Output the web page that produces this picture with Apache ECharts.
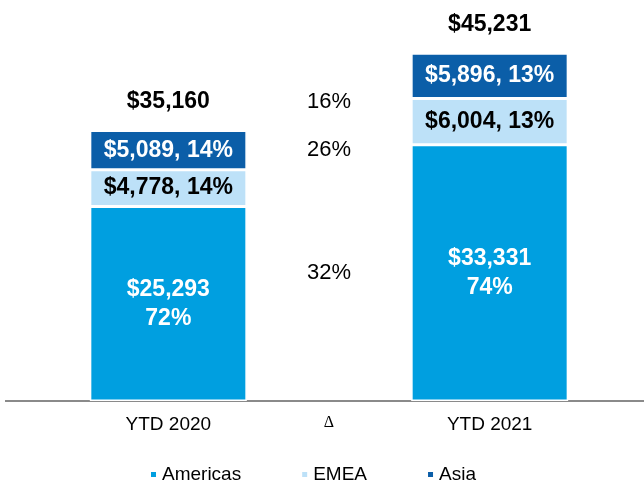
<!DOCTYPE html>
<html>
<head>
<meta charset="utf-8">
<script src="https://cdn.jsdelivr.net/npm/echarts@6/dist/echarts.min.js"></script>
<style>
  html, body { margin: 0; padding: 0; background: #fff; }
  #echart { width: 644px; height: 482px; }
</style>
</head>
<body>
<div id="echart"></div>
<script>
var categories = ['YTD 2020', 'Δ', 'YTD 2021'];
var americas = [25293, '-', 33331];
var emea = [4778, '-', 6004];
var asia = [5089, '-', 5896];
var totals = [35160, '-', 45231];
var americasPct = ['72%', '', '74%'];
var emeaPct = ['14%', '', '13%'];
var asiaPct = ['14%', '', '13%'];
var deltaPct = { americas: '32%', emea: '26%', asia: '16%' };

function money(v) {
    return '$' + Number(v).toLocaleString('en-US');
}

var chartDom = document.getElementById('echart');
var myChart = echarts.init(chartDom);

var font = 'Liberation Sans, Arial, sans-serif';

// delta labels sit in the middle column, placed relative to the stacks
var deltaData = [
    { value: [1, americas[2] / 2], label: { formatter: deltaPct.americas } },
    { value: [1, totals[0] - asia[0] / 2], label: { formatter: deltaPct.emea } },
    { value: [1, americas[2] + emea[2]], label: { formatter: deltaPct.asia, offset: [0, 3] } }
];

var option = {
    animation: false,
    textStyle: { fontFamily: font },
    grid: { left: 88, right: 74, top: 16.5, bottom: 81 },
    legend: {
        top: 460,
        left: 144,
        itemWidth: 7,
        itemHeight: 7,
        itemGap: 59,
        icon: 'rect',
        data: ['Americas', 'EMEA', 'Asia'],
        textStyle: { fontSize: 19, color: '#000', fontFamily: font }
    },
    xAxis: {
        type: 'category',
        data: categories,
        axisLine: { show: false },
        axisTick: { show: false },
        axisLabel: {
            margin: 14,
            fontSize: 19,
            color: '#000',
            formatter: function (v) {
                return v === 'Δ' ? '{d|Δ}' : v;
            },
            rich: {
                d: { fontFamily: 'Liberation Serif, serif', fontSize: 16, color: '#000' }
            }
        }
    },
    yAxis: {
        type: 'value',
        min: 0,
        max: 50000,
        show: false,
        splitLine: { show: false }
    },
    graphic: [{
        type: 'line',
        shape: { x1: 5, y1: 401, x2: 644, y2: 401 },
        style: { stroke: '#8a8a8a', lineWidth: 2 }
    }],
    series: [
        {
            name: 'Americas',
            type: 'bar',
            stack: 'r',
            barWidth: 157,
            data: americas,
            itemStyle: { color: '#009fe0', borderColor: '#fff', borderWidth: 1.5 },
            label: {
                show: true,
                position: 'inside',
                color: '#fff',
                fontWeight: 'bold',
                fontSize: 23,
                lineHeight: 29,
                formatter: function (p) {
                    return money(p.value) + '\n' + americasPct[p.dataIndex];
                }
            }
        },
        {
            name: 'EMEA',
            type: 'bar',
            stack: 'r',
            barWidth: 157,
            data: emea,
            itemStyle: { color: '#bde1f8', borderColor: '#fff', borderWidth: 1.5 },
            label: {
                show: true,
                position: 'inside',
                color: '#000',
                fontWeight: 'bold',
                fontSize: 23,
                formatter: function (p) {
                    return money(p.value) + ', ' + emeaPct[p.dataIndex];
                }
            }
        },
        {
            name: 'Asia',
            type: 'bar',
            stack: 'r',
            barWidth: 157,
            data: asia,
            itemStyle: { color: '#0b5ea8', borderColor: '#fff', borderWidth: 1.5 },
            label: {
                show: true,
                position: 'inside',
                color: '#fff',
                fontWeight: 'bold',
                fontSize: 23,
                formatter: function (p) {
                    return money(p.value) + ', ' + asiaPct[p.dataIndex];
                }
            }
        },
        {
            name: 'Total',
            type: 'scatter',
            symbolSize: 0,
            data: totals,
            itemStyle: { opacity: 1 },
            label: {
                show: true,
                position: 'top',
                distance: 17,
                color: '#000',
                fontWeight: 'bold',
                fontSize: 23,
                formatter: function (p) {
                    return money(p.value);
                }
            }
        },
        {
            name: 'Delta',
            type: 'scatter',
            symbolSize: 0,
            data: deltaData,
            itemStyle: { opacity: 1 },
            label: {
                show: true,
                position: 'inside',
                color: '#000',
                fontSize: 22
            }
        }
    ]
};

myChart.setOption(option);

window.addEventListener('resize', function () {
    myChart.resize();
});
</script>
</body>
</html>
